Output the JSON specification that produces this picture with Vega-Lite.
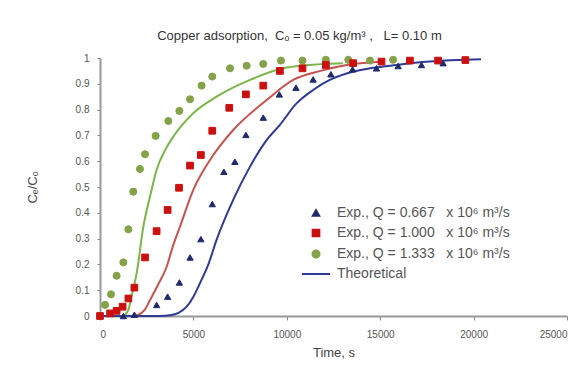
{
  "$schema": "https://vega.github.io/schema/vega-lite/v6.json",
  "autosize": "none",
  "width": 467,
  "height": 258,
  "padding": {"left": 100, "top": 58, "right": 19, "bottom": 51},
  "background": "white",
  "title": {
    "text": "Copper adsorption,\u00a0 Cₒ = 0.05 kg/m³ ,\u00a0\u00a0 L= 0.10 m",
    "fontSize": 13,
    "font": "Liberation Sans",
    "fontWeight": "normal",
    "color": "#333333",
    "anchor": "middle",
    "dx": -34,
    "offset": 10
  },
  "datasets": {
    "exp": [
      {"t": 0, "c": 0, "series": "Exp., Q = 1.333\u00a0\u00a0 x 10⁶ m³/s"},
      {"t": 270, "c": 0.043, "series": "Exp., Q = 1.333\u00a0\u00a0 x 10⁶ m³/s"},
      {"t": 590, "c": 0.084, "series": "Exp., Q = 1.333\u00a0\u00a0 x 10⁶ m³/s"},
      {"t": 890, "c": 0.156, "series": "Exp., Q = 1.333\u00a0\u00a0 x 10⁶ m³/s"},
      {"t": 1250, "c": 0.208, "series": "Exp., Q = 1.333\u00a0\u00a0 x 10⁶ m³/s"},
      {"t": 1520, "c": 0.336, "series": "Exp., Q = 1.333\u00a0\u00a0 x 10⁶ m³/s"},
      {"t": 1780, "c": 0.482, "series": "Exp., Q = 1.333\u00a0\u00a0 x 10⁶ m³/s"},
      {"t": 2140, "c": 0.57, "series": "Exp., Q = 1.333\u00a0\u00a0 x 10⁶ m³/s"},
      {"t": 2410, "c": 0.627, "series": "Exp., Q = 1.333\u00a0\u00a0 x 10⁶ m³/s"},
      {"t": 2980, "c": 0.698, "series": "Exp., Q = 1.333\u00a0\u00a0 x 10⁶ m³/s"},
      {"t": 3660, "c": 0.756, "series": "Exp., Q = 1.333\u00a0\u00a0 x 10⁶ m³/s"},
      {"t": 4250, "c": 0.795, "series": "Exp., Q = 1.333\u00a0\u00a0 x 10⁶ m³/s"},
      {"t": 4820, "c": 0.84, "series": "Exp., Q = 1.333\u00a0\u00a0 x 10⁶ m³/s"},
      {"t": 5440, "c": 0.893, "series": "Exp., Q = 1.333\u00a0\u00a0 x 10⁶ m³/s"},
      {"t": 6010, "c": 0.928, "series": "Exp., Q = 1.333\u00a0\u00a0 x 10⁶ m³/s"},
      {"t": 6960, "c": 0.96, "series": "Exp., Q = 1.333\u00a0\u00a0 x 10⁶ m³/s"},
      {"t": 7850, "c": 0.97, "series": "Exp., Q = 1.333\u00a0\u00a0 x 10⁶ m³/s"},
      {"t": 8740, "c": 0.977, "series": "Exp., Q = 1.333\u00a0\u00a0 x 10⁶ m³/s"},
      {"t": 9690, "c": 0.99, "series": "Exp., Q = 1.333\u00a0\u00a0 x 10⁶ m³/s"},
      {"t": 10840, "c": 0.99, "series": "Exp., Q = 1.333\u00a0\u00a0 x 10⁶ m³/s"},
      {"t": 12090, "c": 0.993, "series": "Exp., Q = 1.333\u00a0\u00a0 x 10⁶ m³/s"},
      {"t": 13290, "c": 0.993, "series": "Exp., Q = 1.333\u00a0\u00a0 x 10⁶ m³/s"},
      {"t": 14450, "c": 0.99, "series": "Exp., Q = 1.333\u00a0\u00a0 x 10⁶ m³/s"},
      {"t": 15690, "c": 0.993, "series": "Exp., Q = 1.333\u00a0\u00a0 x 10⁶ m³/s"},

      {"t": 0, "c": 0, "series": "Exp., Q = 1.000\u00a0\u00a0 x 10⁶ m³/s"},
      {"t": 540, "c": 0.01, "series": "Exp., Q = 1.000\u00a0\u00a0 x 10⁶ m³/s"},
      {"t": 890, "c": 0.02, "series": "Exp., Q = 1.000\u00a0\u00a0 x 10⁶ m³/s"},
      {"t": 1210, "c": 0.036, "series": "Exp., Q = 1.000\u00a0\u00a0 x 10⁶ m³/s"},
      {"t": 1520, "c": 0.068, "series": "Exp., Q = 1.000\u00a0\u00a0 x 10⁶ m³/s"},
      {"t": 1840, "c": 0.11, "series": "Exp., Q = 1.000\u00a0\u00a0 x 10⁶ m³/s"},
      {"t": 2410, "c": 0.227, "series": "Exp., Q = 1.000\u00a0\u00a0 x 10⁶ m³/s"},
      {"t": 3030, "c": 0.329, "series": "Exp., Q = 1.000\u00a0\u00a0 x 10⁶ m³/s"},
      {"t": 3620, "c": 0.411, "series": "Exp., Q = 1.000\u00a0\u00a0 x 10⁶ m³/s"},
      {"t": 4230, "c": 0.497, "series": "Exp., Q = 1.000\u00a0\u00a0 x 10⁶ m³/s"},
      {"t": 4820, "c": 0.583, "series": "Exp., Q = 1.000\u00a0\u00a0 x 10⁶ m³/s"},
      {"t": 5400, "c": 0.624, "series": "Exp., Q = 1.000\u00a0\u00a0 x 10⁶ m³/s"},
      {"t": 6010, "c": 0.718, "series": "Exp., Q = 1.000\u00a0\u00a0 x 10⁶ m³/s"},
      {"t": 6920, "c": 0.807, "series": "Exp., Q = 1.000\u00a0\u00a0 x 10⁶ m³/s"},
      {"t": 7810, "c": 0.859, "series": "Exp., Q = 1.000\u00a0\u00a0 x 10⁶ m³/s"},
      {"t": 8740, "c": 0.893, "series": "Exp., Q = 1.000\u00a0\u00a0 x 10⁶ m³/s"},
      {"t": 9630, "c": 0.95, "series": "Exp., Q = 1.000\u00a0\u00a0 x 10⁶ m³/s"},
      {"t": 10840, "c": 0.96, "series": "Exp., Q = 1.000\u00a0\u00a0 x 10⁶ m³/s"},
      {"t": 12090, "c": 0.973, "series": "Exp., Q = 1.000\u00a0\u00a0 x 10⁶ m³/s"},
      {"t": 13550, "c": 0.98, "series": "Exp., Q = 1.000\u00a0\u00a0 x 10⁶ m³/s"},
      {"t": 15070, "c": 0.986, "series": "Exp., Q = 1.000\u00a0\u00a0 x 10⁶ m³/s"},
      {"t": 16590, "c": 0.99, "series": "Exp., Q = 1.000\u00a0\u00a0 x 10⁶ m³/s"},
      {"t": 18100, "c": 0.99, "series": "Exp., Q = 1.000\u00a0\u00a0 x 10⁶ m³/s"},
      {"t": 19560, "c": 0.992, "series": "Exp., Q = 1.000\u00a0\u00a0 x 10⁶ m³/s"},

      {"t": 1250, "c": 0, "series": "Exp., Q = 0.667\u00a0\u00a0 x 10⁶ m³/s"},
      {"t": 1840, "c": 0.005, "series": "Exp., Q = 0.667\u00a0\u00a0 x 10⁶ m³/s"},
      {"t": 3030, "c": 0.043, "series": "Exp., Q = 0.667\u00a0\u00a0 x 10⁶ m³/s"},
      {"t": 3620, "c": 0.075, "series": "Exp., Q = 0.667\u00a0\u00a0 x 10⁶ m³/s"},
      {"t": 4250, "c": 0.13, "series": "Exp., Q = 0.667\u00a0\u00a0 x 10⁶ m³/s"},
      {"t": 4820, "c": 0.227, "series": "Exp., Q = 0.667\u00a0\u00a0 x 10⁶ m³/s"},
      {"t": 5400, "c": 0.298, "series": "Exp., Q = 0.667\u00a0\u00a0 x 10⁶ m³/s"},
      {"t": 6010, "c": 0.434, "series": "Exp., Q = 0.667\u00a0\u00a0 x 10⁶ m³/s"},
      {"t": 6630, "c": 0.559, "series": "Exp., Q = 0.667\u00a0\u00a0 x 10⁶ m³/s"},
      {"t": 7220, "c": 0.598, "series": "Exp., Q = 0.667\u00a0\u00a0 x 10⁶ m³/s"},
      {"t": 7810, "c": 0.702, "series": "Exp., Q = 0.667\u00a0\u00a0 x 10⁶ m³/s"},
      {"t": 8740, "c": 0.769, "series": "Exp., Q = 0.667\u00a0\u00a0 x 10⁶ m³/s"},
      {"t": 9600, "c": 0.859, "series": "Exp., Q = 0.667\u00a0\u00a0 x 10⁶ m³/s"},
      {"t": 10490, "c": 0.885, "series": "Exp., Q = 0.667\u00a0\u00a0 x 10⁶ m³/s"},
      {"t": 11410, "c": 0.917, "series": "Exp., Q = 0.667\u00a0\u00a0 x 10⁶ m³/s"},
      {"t": 12360, "c": 0.937, "series": "Exp., Q = 0.667\u00a0\u00a0 x 10⁶ m³/s"},
      {"t": 13520, "c": 0.956, "series": "Exp., Q = 0.667\u00a0\u00a0 x 10⁶ m³/s"},
      {"t": 14800, "c": 0.96, "series": "Exp., Q = 0.667\u00a0\u00a0 x 10⁶ m³/s"},
      {"t": 15960, "c": 0.969, "series": "Exp., Q = 0.667\u00a0\u00a0 x 10⁶ m³/s"},
      {"t": 17210, "c": 0.973, "series": "Exp., Q = 0.667\u00a0\u00a0 x 10⁶ m³/s"},
      {"t": 18370, "c": 0.98, "series": "Exp., Q = 0.667\u00a0\u00a0 x 10⁶ m³/s"}
    ],
    "theory": [
      {"t": 0, "c": 0, "curve": "1.333"},
      {"t": 1200, "c": 0, "curve": "1.333"},
      {"t": 1500, "c": 0.02, "curve": "1.333"},
      {"t": 1700, "c": 0.08, "curve": "1.333"},
      {"t": 1960, "c": 0.165, "curve": "1.333"},
      {"t": 2320, "c": 0.346, "curve": "1.333"},
      {"t": 2700, "c": 0.47, "curve": "1.333"},
      {"t": 3030, "c": 0.566, "curve": "1.333"},
      {"t": 3500, "c": 0.645, "curve": "1.333"},
      {"t": 3920, "c": 0.695, "curve": "1.333"},
      {"t": 4990, "c": 0.786, "curve": "1.333"},
      {"t": 6240, "c": 0.85, "curve": "1.333"},
      {"t": 8030, "c": 0.915, "curve": "1.333"},
      {"t": 9810, "c": 0.96, "curve": "1.333"},
      {"t": 11000, "c": 0.972, "curve": "1.333"},
      {"t": 13000, "c": 0.98, "curve": "1.333"},

      {"t": 0, "c": 0, "curve": "1.000"},
      {"t": 1700, "c": 0, "curve": "1.000"},
      {"t": 2050, "c": 0.005, "curve": "1.000"},
      {"t": 2400, "c": 0.025, "curve": "1.000"},
      {"t": 2680, "c": 0.062, "curve": "1.000"},
      {"t": 3100, "c": 0.12, "curve": "1.000"},
      {"t": 3570, "c": 0.191, "curve": "1.000"},
      {"t": 3900, "c": 0.27, "curve": "1.000"},
      {"t": 4280, "c": 0.346, "curve": "1.000"},
      {"t": 4990, "c": 0.488, "curve": "1.000"},
      {"t": 5890, "c": 0.605, "curve": "1.000"},
      {"t": 7130, "c": 0.721, "curve": "1.000"},
      {"t": 8920, "c": 0.837, "curve": "1.000"},
      {"t": 10340, "c": 0.915, "curve": "1.000"},
      {"t": 11800, "c": 0.95, "curve": "1.000"},
      {"t": 13200, "c": 0.973, "curve": "1.000"},
      {"t": 15000, "c": 0.985, "curve": "1.000"},

      {"t": 0, "c": 0, "curve": "0.667"},
      {"t": 3200, "c": 0, "curve": "0.667"},
      {"t": 3750, "c": 0.003, "curve": "0.667"},
      {"t": 4200, "c": 0.012, "curve": "0.667"},
      {"t": 4640, "c": 0.036, "curve": "0.667"},
      {"t": 5000, "c": 0.075, "curve": "0.667"},
      {"t": 5350, "c": 0.127, "curve": "0.667"},
      {"t": 5800, "c": 0.2, "curve": "0.667"},
      {"t": 6240, "c": 0.295, "curve": "0.667"},
      {"t": 7130, "c": 0.45, "curve": "0.667"},
      {"t": 8030, "c": 0.579, "curve": "0.667"},
      {"t": 8920, "c": 0.682, "curve": "0.667"},
      {"t": 9630, "c": 0.741, "curve": "0.667"},
      {"t": 10520, "c": 0.824, "curve": "0.667"},
      {"t": 11410, "c": 0.876, "curve": "0.667"},
      {"t": 12300, "c": 0.915, "curve": "0.667"},
      {"t": 13200, "c": 0.94, "curve": "0.667"},
      {"t": 14450, "c": 0.96, "curve": "0.667"},
      {"t": 15870, "c": 0.973, "curve": "0.667"},
      {"t": 17650, "c": 0.986, "curve": "0.667"},
      {"t": 20400, "c": 0.995, "curve": "0.667"}
    ]
  },
  "encoding": {
    "x": {
      "field": "t", "type": "quantitative",
      "scale": {"domain": [0, 25000], "nice": false},
      "axis": {
        "title": "Time, s",
        "values": [0, 5000, 10000, 15000, 20000, 25000],
        "format": "d",
        "grid": false,
        "domainColor": "#999999", "domainWidth": 2,
        "tickColor": "#888888", "tickSize": 4, "tickWidth": 1,
        "labelFont": "Liberation Sans", "labelFontSize": 10, "labelColor": "#555555",
        "labelPadding": 9,
        "titleFont": "Liberation Sans", "titleFontSize": 13, "titleFontWeight": "normal",
        "titleColor": "#444444", "titlePadding": 7
      }
    },
    "y": {
      "field": "c", "type": "quantitative",
      "scale": {"domain": [0, 1], "nice": false},
      "axis": {
        "title": "Cₑ/Cₒ",
        "values": [0, 0.1, 0.2, 0.3, 0.4, 0.5, 0.6, 0.7, 0.8, 0.9, 1],
        "format": "~g",
        "grid": false,
        "domainColor": "#999999", "domainWidth": 2,
        "tickColor": "#888888", "tickSize": 3, "tickWidth": 1,
        "labelFont": "Liberation Sans", "labelFontSize": 10, "labelColor": "#555555",
        "labelPadding": 8,
        "titleFont": "Liberation Sans", "titleFontSize": 13, "titleFontWeight": "normal",
        "titleColor": "#444444", "titlePadding": 36
      }
    }
  },
  "layer": [
    {
      "data": {"name": "theory"},
      "mark": {"type": "line", "strokeWidth": 2, "interpolate": "monotone"},
      "encoding": {
        "color": {
          "field": "curve", "type": "nominal",
          "scale": {"domain": ["0.667", "1.000", "1.333"], "range": ["#2e3a96", "#c8524e", "#7ab648"]},
          "legend": null
        },
        "detail": {"field": "curve"}
      }
    },
    {
      "data": {"name": "exp"},
      "mark": {"type": "point", "filled": true, "strokeWidth": 1, "opacity": 1},
      "encoding": {
        "shape": {
          "field": "series", "type": "nominal", "title": null,
          "scale": {
            "domain": ["Exp., Q = 0.667\u00a0\u00a0 x 10⁶ m³/s", "Exp., Q = 1.000\u00a0\u00a0 x 10⁶ m³/s", "Exp., Q = 1.333\u00a0\u00a0 x 10⁶ m³/s", "Theoretical"],
            "range": ["triangle-up", "square", "circle", "M-4,0H4"]
          }
        },
        "fill": {
          "field": "series", "type": "nominal", "title": null,
          "scale": {
            "domain": ["Exp., Q = 0.667\u00a0\u00a0 x 10⁶ m³/s", "Exp., Q = 1.000\u00a0\u00a0 x 10⁶ m³/s", "Exp., Q = 1.333\u00a0\u00a0 x 10⁶ m³/s", "Theoretical"],
            "range": ["#1f2a6b", "#cc1010", "#84a24a", "#2e3a96"]
          }
        },
        "stroke": {
          "field": "series", "type": "nominal", "title": null,
          "scale": {
            "domain": ["Exp., Q = 0.667\u00a0\u00a0 x 10⁶ m³/s", "Exp., Q = 1.000\u00a0\u00a0 x 10⁶ m³/s", "Exp., Q = 1.333\u00a0\u00a0 x 10⁶ m³/s", "Theoretical"],
            "range": ["#1f2a6b", "#cc1010", "#84a24a", "#2e3a96"]
          }
        },
        "size": {
          "field": "series", "type": "nominal", "title": null,
          "scale": {
            "type": "ordinal",
            "domain": ["Exp., Q = 0.667\u00a0\u00a0 x 10⁶ m³/s", "Exp., Q = 1.000\u00a0\u00a0 x 10⁶ m³/s", "Exp., Q = 1.333\u00a0\u00a0 x 10⁶ m³/s", "Theoretical"],
            "range": [40, 45, 50, 50]
          }
        }
      }
    }
  ],
  "resolve": {"scale": {"color": "independent"}},
  "config": {
    "view": {"stroke": null},
    "legend": {
      "orient": "none",
      "legendX": 209,
      "legendY": 148,
      "padding": 0,
      "labelFont": "Liberation Sans",
      "labelFontSize": 14,
      "labelColor": "#555555",
      "labelOffset": 14,
      "rowPadding": 5,
      "symbolStrokeWidth": 2,
      "labelLimit": 300
    }
  }
}
